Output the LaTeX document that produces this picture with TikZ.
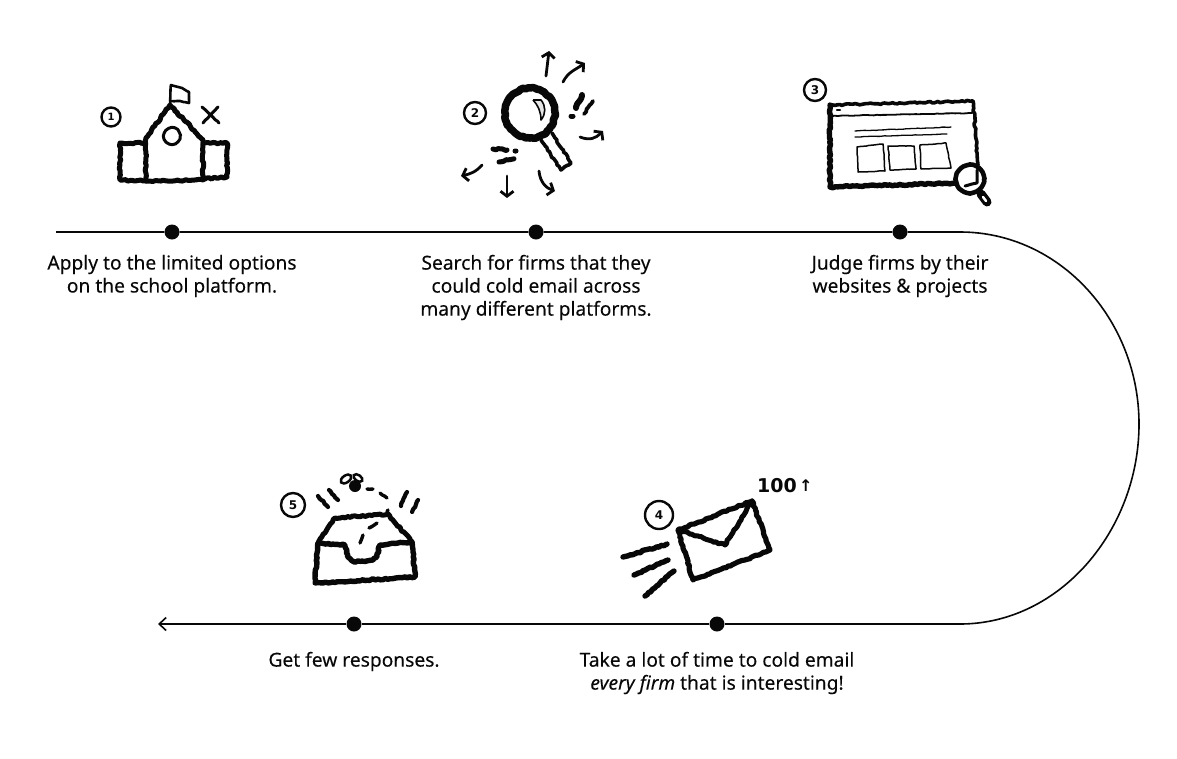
\documentclass[tikz,border=0pt]{standalone}
\usepackage{xcolor}
\usepackage{fontspec}
\setmainfont{Noto Sans}[FakeBold=0.12]
\newfontfamily\sketchfont{DejaVu Sans}
\usetikzlibrary{positioning, calc, arrows.meta, decorations.pathmorphing}
\definecolor{inkblack}{RGB}{8, 8, 8}
\tikzset{
    timeline/.style={draw=inkblack, line width=1.6pt},
    stopdot/.style={circle, fill=inkblack, minimum size=15pt, inner sep=0pt},
    stoplabel/.style={text=inkblack, align=center, font=\fontsize{19.2}{23}\selectfont, inner sep=0pt},
    sketch/.style={draw=inkblack, line width=#1, line cap=round, line join=round, decorate,
        decoration={random steps, segment length=2.5pt, amplitude=.8pt}},
    sketch/.default=4pt,
    sketchfine/.style={draw=inkblack, line width=#1, line cap=round, line join=round, decorate,
        decoration={random steps, segment length=3pt, amplitude=.3pt}},
    sketcharrow/.style={draw=inkblack, line width=2.8pt, line cap=round, line join=round,
        -{Straight Barb[length=5pt,width=13pt,line width=2.8pt]}},
    badge/.style={circle, draw=inkblack, line width=2.4pt, minimum size=#1, inner sep=0pt,
        text=inkblack, font=\sketchfont\bfseries\fontsize{12}{12}\selectfont},
}
\begin{document}
\begin{tikzpicture}[x=1pt, y=-1pt]
    \useasboundingbox (0,0) rectangle (1177,758);
    \pgfmathsetseed{7}

    % stops on the line
    \node[stopdot] (stopone) at (172,232) {};
    \node[stopdot] (stoptwo) at (536,232) {};
    \node[stopdot] (stopthree) at (900,232) {};
    \node[stopdot] (stopfour) at (717,624) {};
    \node[stopdot] (stopfive) at (354,624) {};
    \coordinate (linestart) at (56,232);
    \coordinate (bendtop) at (960,232);
    \coordinate (bendbottom) at (960,624);
    \coordinate (lineend) at (158,624);

    \draw[timeline] (linestart) -- (stopone) -- (stoptwo) -- (stopthree) -- (bendtop)
        .. controls (1060,232) and (1139,320) .. (1139,424)
        .. controls (1139,530) and (1060,624) .. (bendbottom);
    \draw[timeline, -{Straight Barb[length=7pt,width=13pt]}] (bendbottom) -- (stopfour) -- (stopfive) -- (lineend);

    % labels
    \node[stoplabel, below=15pt of stopone] (labelone) {Apply to the limited options\\on the school platform.};
    \node[stoplabel, below=15pt of stoptwo] (labeltwo) {Search for firms that they\\could cold email across\\many different platforms.};
    \node[stoplabel, below=15pt of stopthree] (labelthree) {Judge firms by their\\websites \& projects};
    \node[stoplabel, below=20pt of stopfour] (labelfour) {Take a lot of time to cold email\\\textit{every firm} that is interesting!};
    \node[stoplabel, below=20pt of stopfive] (labelfive) {Get few responses.};

    % school
    \node[badge=19pt] (badgeone) at (111,117) {\fontsize{10}{10}\selectfont 1};
    \draw[sketch=5pt] (146,181) -- (146,138) -- (170,105) -- (203,140) -- (203,180) -- cycle;
    \draw[sketch=5pt] (145,143) -- (120,143) -- (120,180) -- (146,181);
    \draw[sketch=5pt] (203,143) -- (227,143) -- (227,177) -- (203,179);
    \draw[sketchfine=3pt] (172,136) circle (8);
    \draw[sketchfine=3pt] (202,107) -- (219,123) (218,107) -- (203,123);
    \draw[sketchfine=2.6pt] (170,105) -- (171,85) -- (182,88) -- (189,92) -- (189,103) -- (180,101) -- (170,101);

    % magnifier
    \node[badge=22pt] (badgetwo) at (475,113) {2};
    \draw[sketch=3.6pt] (541,140) -- (561,170) -- (571,163) -- (552,133);
    \draw[sketch=7.5pt] (530,113) circle (25);
    \draw[draw=inkblack, line width=1.6pt, line join=round, fill=inkblack!10] (533,100) -- (541,100) .. controls (546,106) and (546,114) .. (541,120) .. controls (541,112) and (538,105) .. (533,100);
    \draw[sketcharrow] (546,76) -- (549,51);
    \draw[sketcharrow] (563,82) .. controls (568,72) and (575,70) .. (585,63);
    \draw[sketcharrow] (580,137) .. controls (590,141) and (596,138) .. (603,131);
    \draw[sketcharrow] (539,171) .. controls (540,182) and (546,188) .. (555,191);
    \draw[sketcharrow] (507,176) -- (507,198);
    \draw[sketcharrow] (482,165) .. controls (476,172) and (470,174) .. (461,176);
    \draw[sketch=5pt] (493,149) -- (507,150) (515,151) -- (516,151) (499,162) -- (513,159) (520,158) -- (521,158);
    \draw[sketch=6pt] (582,95) -- (576,108);
    \draw[sketch=3.8pt] (593,101) -- (584,114);
    \draw[sketch=5pt] (571,116) -- (572,116) (579,122) -- (580,122);

    % website window
    \node[badge=22pt] (badgethree) at (815,90) {3};
    \draw[sketch=3.6pt] (830,105) -- (973,101) -- (978,165);
    \draw[sketch=5.4pt] (830,105) -- (830,187) -- (955,183);
    \draw[sketchfine=1.8pt] (832,116) -- (972,113);
    \draw[sketchfine=2.4pt] (837,110) -- (838,110) (844,110) -- (845,110) (851,110) -- (852,110);
    \draw[sketchfine=1.3pt] (855,131) -- (951,127) (855,137) -- (947,134);
    \draw[sketchfine=1.5pt] (857,147) -- (883,144) -- (885,171) -- (858,172) -- cycle;
    \draw[sketchfine=1.5pt] (888,146) -- (914,146) -- (916,169) -- (890,170) -- cycle;
    \draw[sketchfine=1.5pt] (920,145) -- (946,143) -- (951,168) -- (921,169) -- cycle;
    \draw[sketchfine=4.6pt, fill=white] (970,179) circle (14);
    \draw[sketchfine=3pt] (977,170) -- (977,183) -- (965,186);
    \draw[inkblack, line width=9pt, line cap=round] (981,194) -- (987,202);
    \draw[white, line width=2.5pt, line cap=round] (983,197) -- (986,201);

    % envelope
    \node[badge=28pt] (badgefour) at (659,515) {4};
    \draw[sketch=5.2pt] (678,530) -- (752,501) -- (770,550) -- (693,580) -- cycle;
    \draw[sketch=5pt] (678,530) -- (725,545) -- (752,501);
    \draw[sketch=5.4pt] (623,557) -- (667,544);
    \draw[sketch=5.4pt] (634,575) -- (668,560);
    \draw[sketch=5.4pt] (645,596) -- (674,571);
    \node[inkblack, font=\sketchfont\bfseries\fontsize{19}{19}\selectfont, inner sep=0pt] (hundred) at (777,486) {100};
    \node[inkblack, font=\sketchfont\bfseries\fontsize{16}{16}\selectfont, inner sep=0pt, right=2pt of hundred] (hundredup) {↑};

    % inbox
    \node[badge=24pt] (badgefive) at (293,505) {5};
    \draw[sketch=5pt] (318,543) -- (335,518) -- (388,514) -- (412,542);
    \draw[sketch=5.4pt] (318,543) -- (345,545) .. controls (347,552) and (346,558) .. (355,562) -- (373,560) .. controls (378,556) and (378,550) .. (380,545) -- (412,542) -- (415,577) -- (315,583) -- cycle;
    \draw[sketchfine=3.4pt] (360,543) -- (363,535) (369,528) -- (377,523) (387,512) -- (388,510) (387,498) -- (380,493) (373,489) -- (367,489);
    \fill[inkblack] (355,486) circle (6);
    \draw[inkblack, line width=2.5pt, fill=white, rotate around={35:(346,479)}] (346,479) ellipse (6 and 3.5);
    \draw[inkblack, line width=2.5pt, fill=white, rotate around={-35:(358,478)}] (358,478) ellipse (5 and 3);
    \draw[sketch=4.2pt] (318,496) -- (328,507) (329,490) -- (338,500);
    \draw[sketch=4.2pt] (407,492) -- (401,506) (418,500) -- (412,512);
\end{tikzpicture}
\end{document}
